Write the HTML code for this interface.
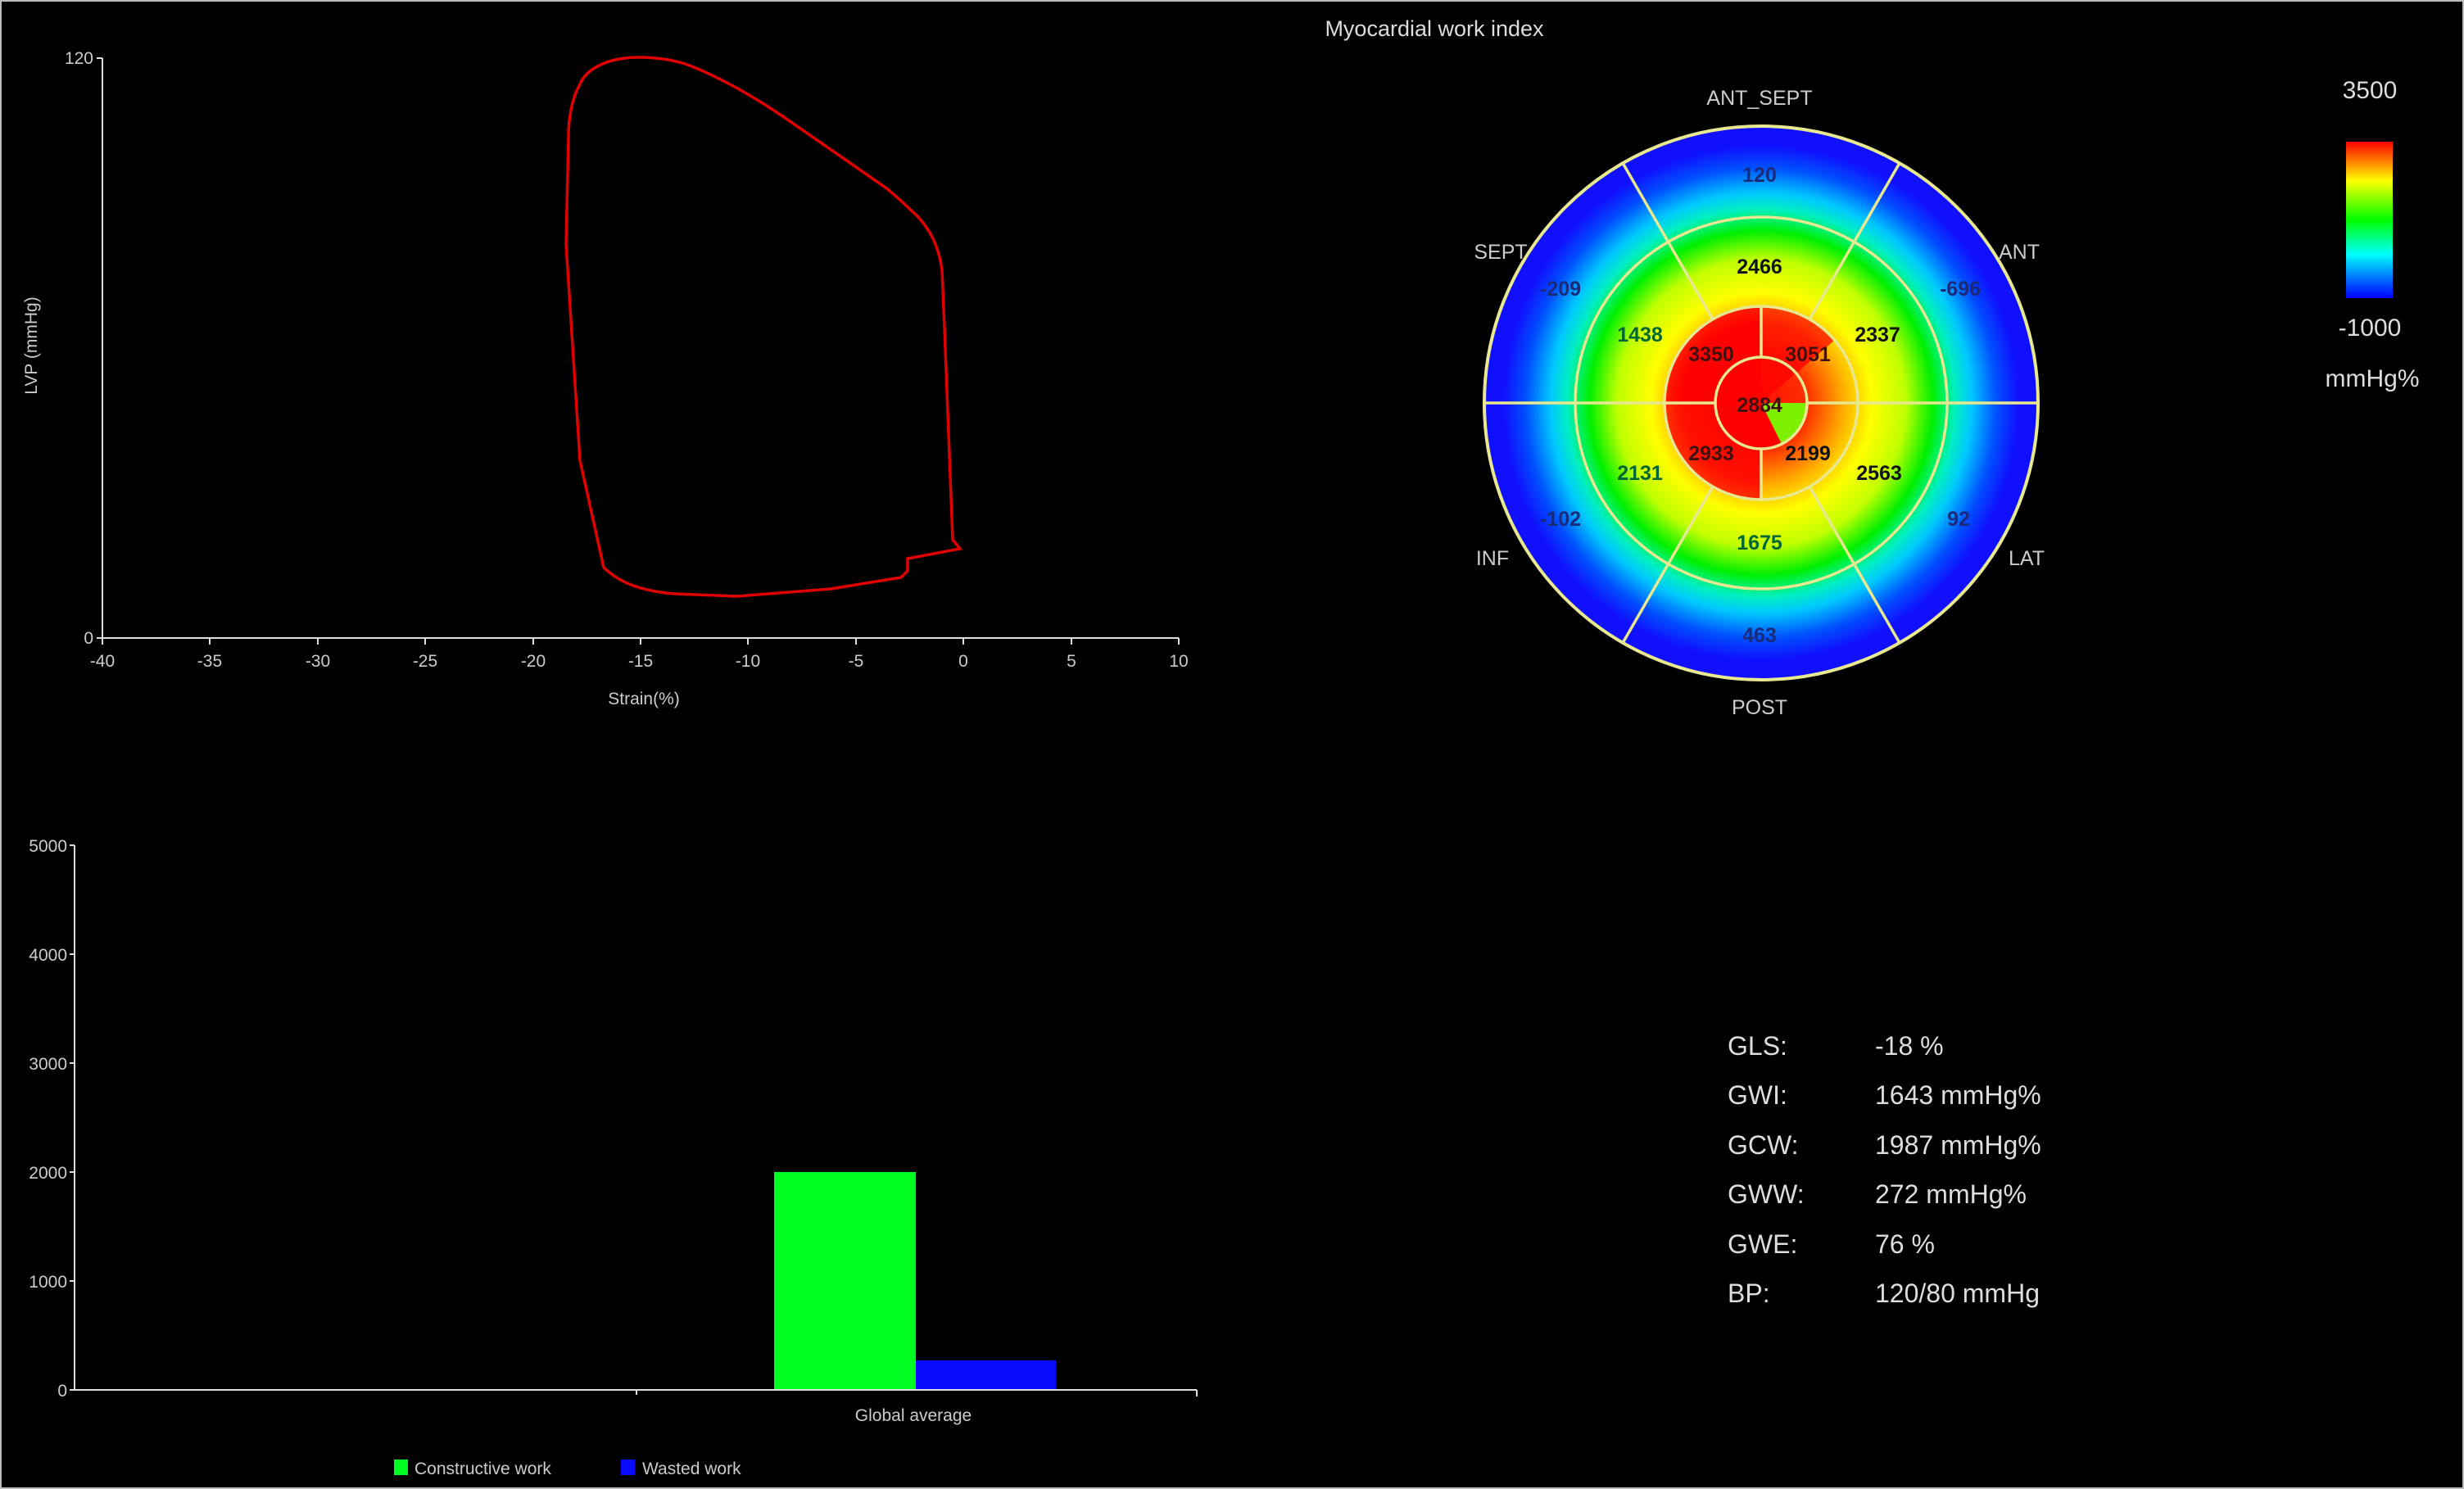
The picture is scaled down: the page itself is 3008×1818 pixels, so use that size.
<!DOCTYPE html>
<html><head><meta charset="utf-8"><style>
html,body{margin:0;padding:0;background:#000;}
svg{display:block;}
text{font-family:"Liberation Sans",sans-serif;}
</style></head><body>
<svg width="3008" height="1818" viewBox="0 0 3008 1818" xmlns="http://www.w3.org/2000/svg">
<defs>
<radialGradient id="rg" cx="2150" cy="492" r="338" gradientUnits="userSpaceOnUse">
<stop offset="0" stop-color="#ff1000"/>
<stop offset="0.17" stop-color="#ff3000"/>
<stop offset="0.3" stop-color="#ffb000"/>
<stop offset="0.4" stop-color="#ffff00"/>
<stop offset="0.52" stop-color="#c0ff00"/>
<stop offset="0.62" stop-color="#00f000"/>
<stop offset="0.7" stop-color="#00f0c0"/>
<stop offset="0.76" stop-color="#00c8ff"/>
<stop offset="0.85" stop-color="#0050ff"/>
<stop offset="0.93" stop-color="#1010ff"/>
<stop offset="1" stop-color="#1010ff"/>
</radialGradient>
<radialGradient id="rr" cx="2150" cy="492" r="130" gradientUnits="userSpaceOnUse">
<stop offset="0" stop-color="#ff0000"/>
<stop offset="0.75" stop-color="#ff0000"/>
<stop offset="1" stop-color="#ff3000"/>
</radialGradient>
<linearGradient id="cb" x1="0" y1="0" x2="0" y2="1">
<stop offset="0" stop-color="#ff0000"/>
<stop offset="0.25" stop-color="#ffff00"/>
<stop offset="0.5" stop-color="#00ff00"/>
<stop offset="0.72" stop-color="#00ffff"/>
<stop offset="1" stop-color="#0000ff"/>
</linearGradient>
</defs>
<rect x="1" y="1" width="3006" height="1816" fill="#000" stroke="#bbb" stroke-width="2"/>
<text x="1751" y="44" fill="#ddd" font-size="27" text-anchor="middle">Myocardial work index</text>

<g stroke="#ddd" stroke-width="2" fill="none">
<line x1="125" y1="71" x2="125" y2="779"/>
<line x1="125" y1="779" x2="1439" y2="779"/>
<line x1="118" y1="71" x2="125" y2="71"/>
<line x1="118" y1="779" x2="125" y2="779"/>
<path d="M125 779v8M256 779v8M388 779v8M519 779v8M651 779v8M782 779v8M913 779v8M1045 779v8M1176 779v8M1308 779v8M1439 779v8"/>
</g>
<g fill="#ccc" font-size="21" text-anchor="middle">
<text x="125" y="814">-40</text><text x="256" y="814">-35</text><text x="388" y="814">-30</text><text x="519" y="814">-25</text><text x="651" y="814">-20</text><text x="782" y="814">-15</text><text x="913" y="814">-10</text><text x="1045" y="814">-5</text><text x="1176" y="814">0</text><text x="1308" y="814">5</text><text x="1439" y="814">10</text>
<text x="786" y="860">Strain(%)</text>
<text x="114" y="78" text-anchor="end">120</text><text x="114" y="786" text-anchor="end">0</text>
<text x="0" y="0" transform="translate(45,422) rotate(-90)">LVP (mmHg)</text>
</g>
<path d="M780 70 C740 70 715 85 708 103 C698 120 694 145 694 166 L691 298 L708 562 L737 693 C760 715 790 722 823 725 L900 728 L1014 719 L1100 705 L1108 697 L1108 682 L1172 670 L1163 659 L1153 401 L1150 330 C1146 300 1135 280 1120 264 C1105 250 1095 240 1081 229 L957 143 C920 118 880 95 842 80 C820 72 800 70 780 70 Z" fill="none" stroke="#e00000" stroke-width="3.5"/>

<circle cx="2150" cy="492" r="338" fill="url(#rg)"/>
<path d="M2150 492 L2032 492 A118 118 0 0 1 2150 374 Z" fill="url(#rr)"/>
<path d="M2150 492 L2150 374 A118 118 0 0 1 2240 415 Z" fill="url(#rr)" opacity="0.8"/>
<path d="M2150 492 L2150 610 A118 118 0 0 1 2032 492 Z" fill="url(#rr)" opacity="0.9"/>
<path d="M2150 492 L2150 436 A56 56 0 1 0 2175 542 Z" fill="#ff0000"/>
<path d="M2150 492 L2206 492 A56 56 0 0 1 2175 542 Z" fill="#7cf000"/>
<g fill="none" stroke="#e8e890" stroke-width="3.5">
<circle cx="2150" cy="492" r="338" stroke-width="4"/>
<circle cx="2150" cy="492" r="227"/>
<circle cx="2150" cy="492" r="118"/>
<circle cx="2150" cy="492" r="56"/>
<line x1="1812" y1="492" x2="2094" y2="492"/>
<line x1="2206" y1="492" x2="2488" y2="492"/>
<line x1="2150" y1="436" x2="2150" y2="374"/>
<line x1="2150" y1="548" x2="2150" y2="610"/>
<line x1="2091" y1="390" x2="1981" y2="199"/>
<line x1="2209" y1="390" x2="2319" y2="199"/>
<line x1="2091" y1="594" x2="1981" y2="785"/>
<line x1="2209" y1="594" x2="2319" y2="785"/>
</g>
<g fill="#ccc" font-size="25" text-anchor="middle">
<text x="2148" y="128">ANT_SEPT</text>
<text x="1832" y="316">SEPT</text>
<text x="2465" y="316">ANT</text>
<text x="1822" y="690">INF</text>
<text x="2474" y="690">LAT</text>
<text x="2148" y="872">POST</text>
</g>
<g fill="#111" font-size="25" font-weight="bold" text-anchor="middle">
<text x="2148" y="222" fill="#1a2a7a">120</text>
<text x="1905" y="361" fill="#1a2a7a">-209</text>
<text x="2393" y="361" fill="#1a2a7a">-696</text>
<text x="2002" y="417" fill="#063">1438</text>
<text x="2148" y="334">2466</text>
<text x="2292" y="417">2337</text>
<text x="2089" y="441" fill="#401010">3350</text>
<text x="2207" y="441" fill="#401010">3051</text>
<text x="2148" y="503" fill="#401010">2884</text>
<text x="2089" y="562" fill="#401010">2933</text>
<text x="2207" y="562">2199</text>
<text x="2002" y="586" fill="#063">2131</text>
<text x="2294" y="586">2563</text>
<text x="1905" y="642" fill="#1a2a7a">-102</text>
<text x="2391" y="642" fill="#1a2a7a">92</text>
<text x="2148" y="671" fill="#063">1675</text>
<text x="2148" y="784" fill="#1a2a7a">463</text>
</g>
<rect x="2864" y="173" width="57" height="191" fill="url(#cb)"/>
<g fill="#ddd" font-size="30" text-anchor="middle">
<text x="2893" y="120">3500</text>
<text x="2893" y="410">-1000</text>
<text x="2896" y="472">mmHg%</text>
</g>

<rect x="945" y="1431" width="173" height="265" fill="#00ff20"/>
<rect x="1118" y="1661" width="171" height="35" fill="#0a0aff"/>
<g stroke="#ddd" stroke-width="2" fill="none">
<line x1="91" y1="1032" x2="91" y2="1697"/>
<line x1="91" y1="1697" x2="1461" y2="1697"/>
<path d="M85 1032h6M85 1165h6M85 1298h6M85 1431h6M85 1564h6M85 1697h6M777 1697v6M1461 1697v8"/>
</g>
<g fill="#ccc" font-size="21">
<g text-anchor="end">
<text x="82" y="1040">5000</text><text x="82" y="1173">4000</text><text x="82" y="1306">3000</text><text x="82" y="1439">2000</text><text x="82" y="1572">1000</text><text x="82" y="1705">0</text>
</g>
<text x="1115" y="1735" text-anchor="middle">Global average</text>
<rect x="481" y="1782" width="17" height="19" fill="#00ff20"/>
<text x="506" y="1800">Constructive work</text>
<rect x="758" y="1782" width="17" height="19" fill="#0a0aff"/>
<text x="784" y="1800">Wasted work</text>
</g>

<g fill="#ddd" font-size="32">
<text x="2109" y="1288">GLS:</text><text x="2289" y="1288">-18 %</text>
<text x="2109" y="1348">GWI:</text><text x="2289" y="1348">1643 mmHg%</text>
<text x="2109" y="1409">GCW:</text><text x="2289" y="1409">1987 mmHg%</text>
<text x="2109" y="1469">GWW:</text><text x="2289" y="1469">272 mmHg%</text>
<text x="2109" y="1530">GWE:</text><text x="2289" y="1530">76 %</text>
<text x="2109" y="1590">BP:</text><text x="2289" y="1590">120/80 mmHg</text>
</g>
</svg>
</body></html>
